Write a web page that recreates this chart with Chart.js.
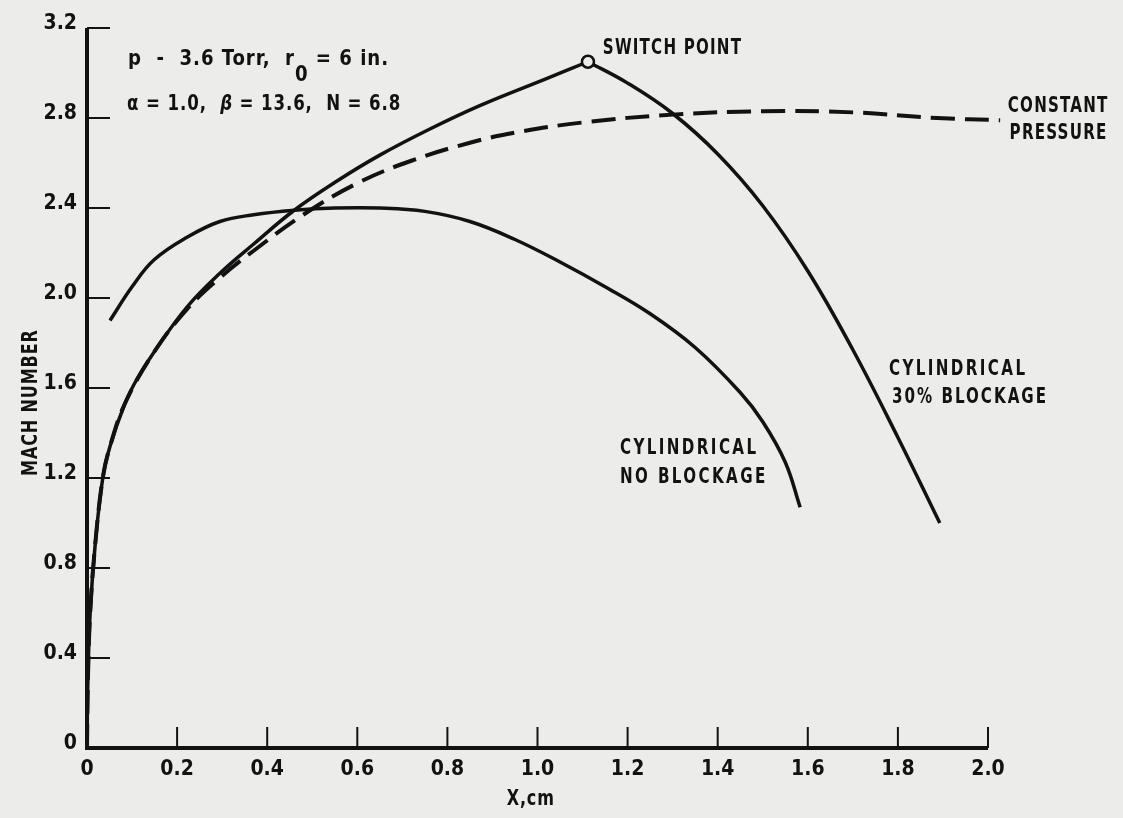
<!DOCTYPE html>
<html>
<head>
<meta charset="utf-8">
<script src="https://cdn.jsdelivr.net/npm/chart.js@4"></script>
<style>
  html, body { margin: 0; padding: 0; background: #ececea; }
  #wrap { width: 1123px; height: 818px; position: relative; }
</style>
</head>
<body>
<div id="wrap"><canvas id="mach-chart"></canvas></div>
<script>
// Mach number along the axis, X in cm
const cyl30RiseX = [0, 0.002, 0.007, 0.018, 0.035, 0.051, 0.084, 0.111, 0.149, 0.222, 0.295, 0.37, 0.46, 0.555, 0.65, 0.76, 0.872, 1.02, 1.112];
const cyl30RiseY = [0, 0.3, 0.6, 0.9, 1.2, 1.34, 1.53, 1.64, 1.76, 1.96, 2.11, 2.24, 2.39, 2.52, 2.635, 2.75, 2.855, 2.975, 3.05];

const cyl30FallX = [1.112, 1.2, 1.3, 1.4, 1.5, 1.6, 1.7, 1.8, 1.893];
const cyl30FallY = [3.05, 2.955, 2.82, 2.64, 2.41, 2.12, 1.77, 1.38, 1.0];

const constPressX = [0, 0.002, 0.007, 0.018, 0.035, 0.051, 0.084, 0.149, 0.222, 0.295, 0.37, 0.48, 0.6, 0.72, 0.85, 0.95, 1.1, 1.3, 1.5, 1.7, 1.887, 2.027];
const constPressY = [0, 0.3, 0.6, 0.9, 1.2, 1.34, 1.53, 1.76, 1.95, 2.09, 2.21, 2.37, 2.51, 2.61, 2.69, 2.735, 2.78, 2.815, 2.83, 2.825, 2.8, 2.79];

const noBlockX = [0.051, 0.1, 0.149, 0.222, 0.295, 0.37, 0.46, 0.55, 0.65, 0.75, 0.85, 0.95, 1.05, 1.15, 1.25, 1.35, 1.45, 1.5, 1.55, 1.583];
const noBlockY = [1.9, 2.05, 2.17, 2.27, 2.34, 2.37, 2.39, 2.4, 2.4, 2.385, 2.34, 2.26, 2.16, 2.05, 1.93, 1.78, 1.58, 1.45, 1.27, 1.07];

const switchPoint = { x: 1.112, y: 3.05 };

const xTicks = [0, 0.2, 0.4, 0.6, 0.8, 1.0, 1.2, 1.4, 1.6, 1.8, 2.0];
const yTicks = [0, 0.4, 0.8, 1.2, 1.6, 2.0, 2.4, 2.8, 3.2];

const INK = "#121212";
const PAPER = "#ececea";
const FONT = "'Liberation Sans Narrow', 'DejaVu Sans Condensed', 'DejaVu Sans', sans-serif";

const toPoints = (xs, ys) => xs.map((x, i) => ({ x, y: ys[i] }));
const tickText = (v) => (Math.abs(v) < 1e-9 ? "0" : v.toFixed(1));

function curve(points, dashed) {
  return {
    data: points,
    showLine: true,
    borderColor: INK,
    borderWidth: dashed ? 4 : 3.5,
    borderDash: dashed ? [24, 10] : [],
    pointRadius: 0,
    tension: 0.4,
    clip: false,
  };
}

// axes with inward ticks, axis titles and the curve labels
const annotate = {
  id: "annotate",
  afterDatasetsDraw(chart) {
    const { ctx, scales: { x, y } } = chart;
    const px = (v) => x.getPixelForValue(v);
    const py = (v) => y.getPixelForValue(v);

    ctx.save();
    ctx.strokeStyle = INK;
    ctx.lineCap = "butt";
    ctx.lineWidth = 4;
    ctx.beginPath();
    ctx.moveTo(px(0), py(3.2));
    ctx.lineTo(px(0), py(0));
    ctx.lineTo(px(2.0), py(0));
    ctx.stroke();

    ctx.lineWidth = 2;
    ctx.beginPath();
    yTicks.filter((v) => v > 0).forEach((v) => {
      ctx.moveTo(px(0), py(v));
      ctx.lineTo(px(0) + 23, py(v));
    });
    xTicks.filter((v) => v > 0).forEach((v) => {
      ctx.moveTo(px(v), py(0));
      ctx.lineTo(px(v), py(0) - 21);
    });
    ctx.stroke();
    ctx.restore();

    // pieces of one line of text, condensed horizontally by sx
    const run = (pieces, xv, yv, sx = 0.8, spacing = 1) => {
      ctx.save();
      ctx.fillStyle = INK;
      ctx.textBaseline = "middle";
      ctx.textAlign = "left";
      ctx.letterSpacing = spacing + "px";
      ctx.translate(px(xv), py(yv));
      ctx.scale(sx, 1);
      let cx = 0;
      pieces.forEach((p) => {
        ctx.font = `${p.style || "bold"} ${p.size || 21}px ${FONT}`;
        ctx.fillText(p.t, cx, p.dy || 0);
        cx += ctx.measureText(p.t).width;
      });
      ctx.restore();
    };
    const text = (str, xv, yv, spacing) => run([{ t: str }], xv, yv, 0.8, spacing);

    run([
      { t: "p  -  3.6 Torr,  r" },
      { t: "0", dy: 16 },
      { t: " = 6 in." },
    ], 0.091, 3.058, 0.96, 1);
    run([
      { t: "\u03b1 = 1.0,  " },
      { t: "\u03b2", style: "italic bold" },
      { t: " = 13.6,  N = 6.8" },
    ], 0.089, 2.858, 0.88, 1);

    text("SWITCH POINT", 1.145, 3.11, 1.5);
    text("CONSTANT", 2.044, 2.85, 1.5);
    text("PRESSURE", 2.048, 2.73, 1.5);
    text("CYLINDRICAL", 1.183, 1.333, 3);
    text("NO BLOCKAGE", 1.183, 1.204, 3);
    text("CYLINDRICAL", 1.78, 1.68, 3);
    text("30% BLOCKAGE", 1.787, 1.556, 2.5);

    // axis titles
    ctx.save();
    ctx.fillStyle = INK;
    ctx.textAlign = "center";
    ctx.textBaseline = "middle";
    ctx.letterSpacing = "1px";
    ctx.font = `bold 21px ${FONT}`;
    ctx.translate(px(0.985), 800);
    ctx.scale(0.85, 1);
    ctx.fillText("X,cm", 0, 0);
    ctx.restore();

    ctx.save();
    ctx.fillStyle = INK;
    ctx.textAlign = "center";
    ctx.textBaseline = "middle";
    ctx.letterSpacing = "1px";
    ctx.font = `bold 21px ${FONT}`;
    ctx.translate(32, py(1.535));
    ctx.rotate(-Math.PI / 2);
    ctx.scale(0.85, 1);
    ctx.fillText("MACH NUMBER", 0, 0);
    ctx.restore();
  },
};

new Chart(document.getElementById("mach-chart"), {
  type: "scatter",
  data: {
    datasets: [
      {
        data: [switchPoint],
        pointRadius: 6,
        pointBorderWidth: 2.5,
        pointBorderColor: INK,
        pointBackgroundColor: PAPER,
        clip: false,
      },
      curve(toPoints(cyl30RiseX, cyl30RiseY), false),
      curve(toPoints(cyl30FallX, cyl30FallY), false),
      curve(toPoints(noBlockX, noBlockY), false),
      curve(toPoints(constPressX, constPressY), true),
    ],
  },
  options: {
    responsive: true,
    maintainAspectRatio: false,
    animation: false,
    layout: { padding: { top: 28, right: 135, left: 0, bottom: 0 } },
    plugins: { legend: { display: false }, tooltip: { enabled: false } },
    scales: {
      x: {
        type: "linear",
        min: 0,
        max: 2.0,
        afterBuildTicks: (scale) => { scale.ticks = xTicks.map((value) => ({ value })); },
        afterFit: (scale) => { scale.height = 70; },
        grid: { display: false, drawTicks: false },
        border: { display: false },
        ticks: {
          color: INK,
          padding: 9,
          maxRotation: 0,
          autoSkip: false,
          font: { family: FONT, size: 21, weight: "bold" },
          callback: tickText,
        },
      },
      y: {
        min: 0,
        max: 3.2,
        afterBuildTicks: (scale) => { scale.ticks = yTicks.map((value) => ({ value })); },
        afterFit: (scale) => { scale.width = 87; },
        grid: { display: false, drawTicks: false },
        border: { display: false },
        ticks: {
          color: INK,
          padding: 10,
          labelOffset: -4,
          autoSkip: false,
          font: { family: FONT, size: 21, weight: "bold" },
          callback: tickText,
        },
      },
    },
  },
  plugins: [annotate],
});
</script>
</body>
</html>
